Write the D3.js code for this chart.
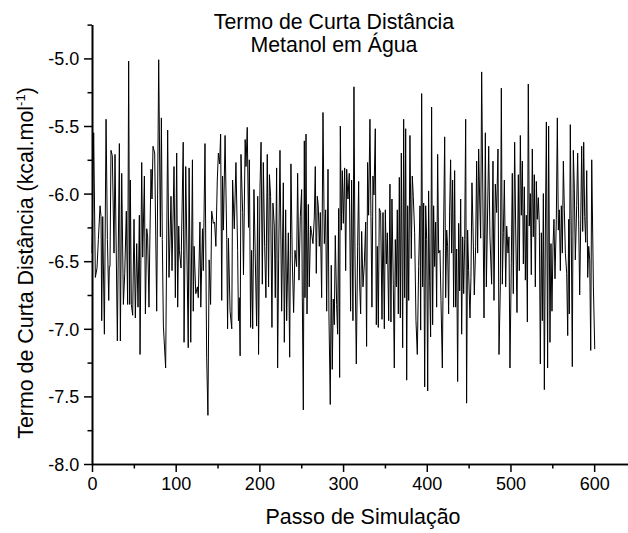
<!DOCTYPE html>
<html><head><meta charset="utf-8">
<script src="https://cdn.jsdelivr.net/npm/d3@7"></script>
<style>body{margin:0;background:#fff}svg{display:block}text{font-family:"Liberation Sans",Arial,sans-serif;fill:#000}</style>
</head><body><svg id="c" width="628" height="533"></svg>
<script>
const titleLines = ["Termo de Curta Distância", "Metanol em Água"];
const xLabel = "Passo de Simulação";
const yLabel = "Termo de Curta Distância (kcal.mol";
const yLabelSup = "-1";
const xTicks = [0, 100, 200, 300, 400, 500, 600];
const xMinorTicks = [50, 150, 250, 350, 450, 550, 650];
const yTicks = [-5.0, -5.5, -6.0, -6.5, -7.0, -7.5, -8.0];
const yMinorTicks = [-4.75, -5.25, -5.75, -6.25, -6.75, -7.25, -7.75];

const steps = [
0,2,4,6,7.6,9.6,10.8,11.6,12.8,14.8,16.8,18.4,20,20.7,21.5,22.7,24.3,26.3,27.5,30.3,32.7,33.9,35.5,37.5,39.1,41,42.6,43.8,45,45.8,47,48.6,50.2,51.8,53.4,55,56.6,57.4,59.4,60.6,62.6,63.8,65.4,66.5,68.1,68.9,70.5,71.7,72.9,74.9,77.3,79.7,81.7,82.9,84,85.3,88,90.4,92,94.4,95.6,98,99.6,101.2,102.4,103.6,104.4,106.4,
109,110,112,115,116,118,120,121,122,124,126,127,129,130,132,133,135,137,138.5,140,141.7,143,145,146.5,148,149.7,151,152.5,153.7,155,156,157,159,161,162,163,165,167,168,170,172,174,175,176,177,178,180,181,183,184,185.5,187,188,189.5,190.7,192,193.5,195,196.7,198,199,200.7,202,203.5,204.7,206.3,207.8,209.4,211,212,213.4,215,216.2,217.8,219,220.6,221.8,223,224.6,
226.6,228.6,229.8,231.4,232.6,234.6,236.2,237.7,239.3,240.9,242.5,244.5,245.7,247.3,248.9,250.5,251.3,252.5,253.7,254.5,255.7,256.9,258.5,259.6,261.2,262.4,264,265.6,266.8,268,269.2,270.4,271.6,272.8,274.4,276,277.6,279.2,280.4,282,283.1,284.7,285.9,287.1,288.3,289.5,290.7,292.3,293.5,294.7,295.9,296.7,297.9,299.1,300.3,301.9,303.1,304.3,305.8,307.4,309,310.2,311.8,313,314.2,315.8,317.4,318.6,319.8,321,322.2,323.8,325.4,327,328.1,329.3,330.5,332.1,333.3,334.5,335.7,336.9,338.5,339.7,340.9,342.1,343.3,344.9,346.5,347.7,
349.3,350.5,351.7,352.9,354.5,356,357.2,358.4,360,361.2,362.4,363.6,364.8,366,367.2,368.4,369.6,371.2,372.4,373.6,374.8,376,377.2,378.4,379.9,381.5,382.7,383.9,385.5,387.1,388.7,390.3,391.9,392.7,393.9,395.1,396.3,397.5,398.7,399.9,401.1,402.2,403.4,404.6,405.8,407,408.2,409.4,410.6,411.8,413,414.2,415.8,417,418.6,419.8,421.4,422.6,423.8,424.9,426.1,427.3,428.5,429.7,430.9,432.1,433.3,434.5,435.7,436.9,438.1,439.3,440.5,441.7,442.9,444.1,445.3,446.5,447.6,448.8,450,451.6,452.8,454,455.2,456.8,458.4,459.6,460.8,462,463.2,464.4,465.6,
468.4,470,471.2,472.4,474,475.5,477.5,479.1,480.3,481.9,483.5,485.1,486.3,487.9,489.1,490.3,491.5,492.7,494.3,495.5,497.1,498.2,499.4,501,502.2,503.4,505,506.2,507.8,509.4,510.6,511.8,513,514.2,515.4,516.6,517.8,519,520.2,521.3,522.5,523.7,524.9,526.1,527.3,528.5,529.7,530.9,532.1,533.3,534.5,535.7,536.9,538.1,539.3,540.5,541.7,542.9,544.4,545.6,547.2,548.4,549.6,550.8,552,553.2,554.8,556,557.2,558.4,559.6,560.8,562,563.2,564.4,565.6,567.2,568.4,569.6,570.3,571.5,572.7,573.9,575.1,576.3,577.5,579.1,580.3,581.5,582.7,583.9,585.1,586.3,587.5,588.7,589.9,591.1,592.3,593.5,594.7,595.9,597.1,599.1,600.7
];
const energy = [
-6.44,-5.55,-6.62,-6.55,-6.34,-6.09,-6.17,-6.94,-6.17,-7.04,-5.45,-6.34,-6.79,-6.54,-6.54,-5.68,-5.72,-6.44,-5.71,-7.09,-5.63,-7.09,-5.85,-6.82,-6.59,-6.13,-6.82,-5.02,-6.82,-5.9,-6.82,-6.9,-6.19,-6.92,-6.37,-6.84,-6.16,-7.19,-5.77,-6.47,-5.87,-6.89,-6.26,-6.32,-6.84,-6.44,-5.82,-6.04,-5.65,-5.7,-6.87,-5.01,-6.32,-5.44,-6.34,-6.98,-7.29,-5.53,-6.62,-6.02,-6.57,-5.8,-6.77,-5.7,-6.84,-6.24,-6.42,-6.55,
-5.62,-7.1,-5.8,-7.14,-5.81,-7.1,-5.75,-6.87,-6.39,-6.74,-6.69,-6.77,-6.21,-6.84,-6.26,-6.57,-5.63,-7.21,-7.64,-6.49,-6.82,-6.13,-6.22,-6.21,-6.39,-5.9,-5.7,-5.78,-5.56,-6.79,-5.87,-6.27,-5.57,-6.34,-7.0,-6.33,-6.87,-7.0,-5.9,-6.26,-5.77,-6.42,-6.94,-6.77,-7.2,-5.71,-6.14,-6.6,-5.6,-5.8,-5.51,-6.25,-5.75,-6.99,-6.42,-7.0,-5.97,-6.44,-6.98,-6.02,-7.19,-5.96,-5.62,-6.67,-5.77,-6.39,-6.77,-5.71,-6.69,-5.86,-6.02,-6.99,-6.07,-6.24,-6.77,-5.81,-7.29,-6.49,-5.68,
-6.87,-5.92,-7.1,-6.12,-6.94,-6.29,-7.21,-5.78,-6.49,-6.88,-6.42,-6.54,-5.85,-6.64,-6.17,-5.97,-6.77,-7.6,-5.61,-6.77,-5.56,-6.89,-6.08,-6.69,-6.24,-6.29,-6.37,-6.18,-5.8,-6.59,-6.02,-6.09,-6.39,-6.14,-6.77,-5.4,-6.37,-6.12,-6.87,-5.82,-6.89,-7.56,-6.53,-7.3,-6.78,-6.97,-6.31,-6.82,-7.04,-6.11,-7.36,-5.5,-6.27,-5.83,-6.22,-5.81,-6.57,-5.82,-6.04,-5.85,-6.87,-5.9,-6.94,-5.21,-6.44,-7.26,-6.39,-5.91,-6.67,-6.89,-6.28,-6.69,-6.52,-6.21,-7.13,-5.77,-6.16,-5.45,-6.17,-6.84,-5.87,-6.01,-5.52,-6.97,-6.39,-6.99,-6.11,-6.14,-6.93,-6.14,
-7.0,-6.12,-6.52,-6.29,-6.94,-5.93,-6.95,-6.04,-6.67,-7.29,-6.34,-6.69,-6.12,-6.89,-5.88,-6.92,-5.7,-7.14,-5.45,-6.77,-5.52,-7.38,-6.09,-6.79,-5.57,-6.48,-5.87,-6.02,-6.29,-6.94,-7.19,-6.54,-6.09,-7.01,-5.26,-6.69,-6.07,-7.43,-6.09,-6.34,-7.46,-5.98,-6.64,-7.06,-5.36,-6.97,-6.09,-6.54,-6.21,-6.84,-5.71,-6.44,-6.42,-6.79,-7.29,-6.44,-5.58,-6.77,-6.27,-6.39,-6.89,-6.13,-5.75,-6.44,-5.9,-6.84,-5.83,-6.84,-6.41,-7.39,-6.22,-6.72,-6.04,-7.04,-6.32,-6.74,-6.34,-5.45,-7.55,-6.27,-6.57,-6.92,-6.62,-5.92,-6.24,-6.75,-6.39,-5.76,-6.44,-5.67,-6.04,-6.33,-5.1,
-6.92,-5.55,-6.69,-6.24,-5.65,-6.32,-6.67,-5.76,-6.79,-5.93,-6.14,-5.67,-7.19,-6.69,-5.22,-6.67,-6.29,-5.9,-6.69,-6.24,-6.44,-6.32,-7.29,-6.52,-5.85,-6.74,-5.62,-6.24,-6.88,-5.86,-6.57,-5.57,-6.16,-5.76,-6.52,-5.95,-6.64,-6.16,-6.95,-5.19,-6.24,-6.0,-6.6,-5.67,-6.32,-5.86,-6.69,-5.91,-6.19,-6.03,-6.24,-7.26,-6.29,-6.94,-6.0,-7.45,-6.27,-5.47,-7.29,-5.5,-7.1,-6.37,-6.87,-6.39,-6.19,-6.63,-6.19,-5.44,-6.27,-6.12,-6.57,-6.09,-6.44,-5.76,-6.12,-6.44,-6.59,-7.05,-6.19,-6.89,-5.49,-6.32,-7.28,-5.68,-5.96,-6.49,-6.09,-5.7,-6.19,-6.75,-6.24,-5.65,-6.28,-5.62,-6.17,-6.36,-5.83,-6.62,-6.39,-6.49,-7.16,-5.75,-6.69,-7.15
];

const svg = d3.select("#c");
const x = d3.scaleLinear().domain([0, 650]).range([92, 636]);
const y = d3.scaleLinear().domain([-8, -4.75]).range([464, 24.6]);

// data line
const pts = steps.map((s, i) => [s, energy[i]]);
svg.append("path").datum(pts)
  .attr("fill", "none").attr("stroke", "#000").attr("stroke-width", 1)
  .attr("d", d3.line().x(d => x(d[0])).y(d => y(d[1])));

// axes
const xMinor = d3.axisBottom(x).tickValues(xMinorTicks).tickFormat("").tickSize(4.5).tickSizeOuter(0);
const xAxis = d3.axisBottom(x).tickValues(xTicks).tickFormat(d => String(d)).tickSize(8).tickSizeOuter(0);
const yMinor = d3.axisLeft(y).tickValues(yMinorTicks).tickFormat("").tickSize(4.5).tickSizeOuter(0);
const yAxis = d3.axisLeft(y).tickValues(yTicks).tickFormat(d => d.toFixed(1)).tickSize(8).tickSizeOuter(0);

function style(g){
  g.select(".domain").attr("stroke","#000").attr("stroke-width",1.6);
  g.selectAll(".tick line").attr("stroke","#000").attr("stroke-width",1.5);
  g.selectAll(".tick text").attr("font-family","Liberation Sans, Arial, sans-serif").attr("font-size",18).attr("fill","#000");
}
svg.append("g").attr("transform","translate(0,464)").call(xMinor).call(style);
const gx = svg.append("g").attr("transform","translate(0,464)").call(xAxis).call(style);
svg.append("g").attr("transform","translate(92,0)").call(yMinor).call(style);
const gy = svg.append("g").attr("transform","translate(92,0)").call(yAxis).call(style);
gx.selectAll(".tick text").attr("y",26).attr("dy",null);
gy.selectAll(".tick text").attr("x",-12.7).attr("dy","0.36em");

// titles
svg.append("text").attr("x",334).attr("y",29).attr("text-anchor","middle").attr("font-size",21.3).text(titleLines[0]);
svg.append("text").attr("x",334).attr("y",52).attr("text-anchor","middle").attr("font-size",21.3).text(titleLines[1]);
svg.append("text").attr("x",363).attr("y",523.5).attr("text-anchor","middle").attr("font-size",21.4).text(xLabel);
const yt = svg.append("text").attr("transform","translate(33,263) rotate(-90)")
  .attr("text-anchor","middle").attr("font-size",21.4);
yt.append("tspan").text(yLabel);
yt.append("tspan").attr("font-size",13).attr("dy",-8).text(yLabelSup);
yt.append("tspan").attr("dy",8).text(")");
</script></body></html>
